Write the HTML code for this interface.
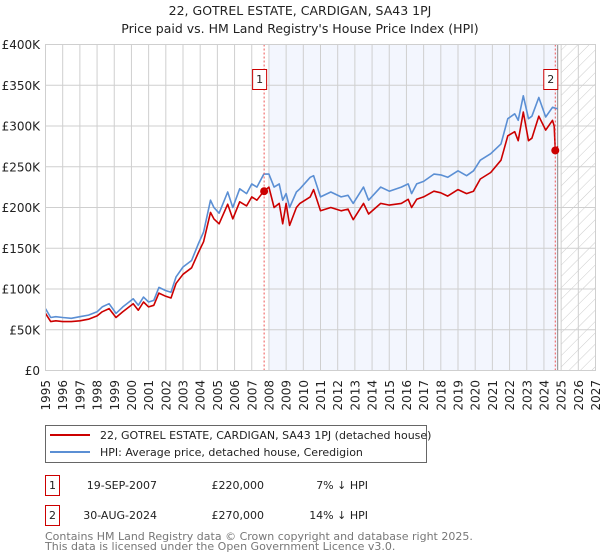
<!DOCTYPE html>
<html><head><meta charset="utf-8"><style>
body{margin:0;background:#fff;font-family:"DejaVu Sans","Liberation Sans",sans-serif;}
svg{display:block}
</style></head><body>
<svg id="chart" width="600" height="560" viewBox="0 0 600 560" xmlns="http://www.w3.org/2000/svg" font-family="DejaVu Sans, Liberation Sans, sans-serif">
<text x="300" y="15" text-anchor="middle" font-size="12.5" fill="#222">22, GOTREL ESTATE, CARDIGAN, SA43 1PJ</text>
<text x="300" y="33" text-anchor="middle" font-size="12.5" fill="#222">Price paid vs. HM Land Registry's House Price Index (HPI)</text>
<defs><pattern id="hatch" width="8" height="8" patternUnits="userSpaceOnUse" patternTransform="rotate(45)"><line x1="0" y1="0" x2="0" y2="8" stroke="#ccc" stroke-width="1"/></pattern></defs>
<g id="bg"></g><g id="grid"></g><g id="lines"></g><g id="marks"></g><g id="axes"></g>
<g>
<rect x="45.5" y="425.5" width="381" height="37" fill="#fff" stroke="#666"/>
<line x1="50" y1="435" x2="90" y2="435" stroke="#cc0000" stroke-width="2"/>
<text x="100" y="439" font-size="11" fill="#222">22, GOTREL ESTATE, CARDIGAN, SA43 1PJ (detached house)</text>
<line x1="50" y1="452" x2="90" y2="452" stroke="#5b8fd4" stroke-width="2"/>
<text x="100" y="456" font-size="11" fill="#222">HPI: Average price, detached house, Ceredigion</text>
</g>
<g font-size="11" fill="#222">
<rect x="45.5" y="475.5" width="14" height="20" fill="#fff" stroke="#cc0000"/>
<text x="52.5" y="489" text-anchor="middle">1</text>
<text x="157" y="489" text-anchor="end">19-SEP-2007</text>
<text x="264" y="489" text-anchor="end">£220,000</text>
<text x="368" y="489" text-anchor="end">7% ↓ HPI</text>
<rect x="45.5" y="505.5" width="14" height="20" fill="#fff" stroke="#cc0000"/>
<text x="52.5" y="519" text-anchor="middle">2</text>
<text x="157" y="519" text-anchor="end">30-AUG-2024</text>
<text x="264" y="519" text-anchor="end">£270,000</text>
<text x="368" y="519" text-anchor="end">14% ↓ HPI</text>
</g>
<text x="45" y="540" font-size="11" fill="#777">Contains HM Land Registry data © Crown copyright and database right 2025.</text>
<text x="45" y="550" font-size="11" fill="#777">This data is licensed under the Open Government Licence v3.0.</text>
</svg>
<script>
const hpiYears=[1995.0,1995.3,1995.6,1996.0,1996.5,1997.0,1997.5,1998.0,1998.3,1998.7,1999.1,1999.5,2000.1,2000.4,2000.7,2001.0,2001.3,2001.6,2002.0,2002.3,2002.6,2003.0,2003.5,2003.9,2004.2,2004.6,2004.8,2005.1,2005.6,2005.9,2006.3,2006.7,2007.0,2007.3,2007.7,2008.0,2008.3,2008.6,2008.8,2009.0,2009.2,2009.6,2009.8,2010.4,2010.6,2011.0,2011.6,2012.2,2012.6,2012.9,2013.5,2013.8,2014.5,2015.0,2015.7,2016.1,2016.3,2016.6,2017.0,2017.6,2018.0,2018.4,2019.0,2019.5,2019.9,2020.3,2020.9,2021.5,2021.9,2022.3,2022.5,2022.8,2023.1,2023.3,2023.7,2024.1,2024.5,2024.8];
const hpiValues=[76,65,66,65,64,66,68,72,78,82,70,78,88,80,90,84,86,102,98,96,115,127,135,156,170,209,200,193,219,200,223,217,229,225,241,241,225,229,209,217,200,219,223,237,239,213,219,213,215,205,225,209,225,220,225,229,217,229,232,241,240,237,245,239,245,258,266,278,309,315,307,337,309,312,335,311,323,321];
const priceYears=[1995.0,1995.3,1995.6,1996.0,1996.5,1997.0,1997.5,1998.0,1998.3,1998.7,1999.1,1999.5,2000.1,2000.4,2000.7,2001.0,2001.3,2001.6,2002.0,2002.3,2002.6,2003.0,2003.5,2003.9,2004.2,2004.6,2004.8,2005.1,2005.6,2005.9,2006.3,2006.7,2007.0,2007.3,2007.7,2008.0,2008.3,2008.6,2008.8,2009.0,2009.2,2009.6,2009.8,2010.4,2010.6,2011.0,2011.6,2012.2,2012.6,2012.9,2013.5,2013.8,2014.5,2015.0,2015.7,2016.1,2016.3,2016.6,2017.0,2017.6,2018.0,2018.4,2019.0,2019.5,2019.9,2020.3,2020.9,2021.5,2021.9,2022.3,2022.5,2022.8,2023.1,2023.3,2023.7,2024.1,2024.5,2024.6,2024.66,2024.8];
const priceValues=[70,60,61,60,60,61,63,67,72,76,65,72,82,74,84,78,80,95,91,89,107,118,126,145,158,194,186,180,204,186,207,202,213,209,220,225,200,205,180,205,178,200,205,213,222,196,200,196,198,185,205,192,205,203,205,210,200,210,213,220,218,214,222,217,220,235,243,258,288,293,282,317,282,285,312,295,307,300,270,275];
const saleYears=[2007.72,2024.66];
const saleValues=[220,270];
const saleLabels=["1","2"];
const yTicks=[0,50,100,150,200,250,300,350,400];
const yTickLabels=["£0","£50K","£100K","£150K","£200K","£250K","£300K","£350K","£400K"];
const xTicks=[1995,1996,1997,1998,1999,2000,2001,2002,2003,2004,2005,2006,2007,2008,2009,2010,2011,2012,2013,2014,2015,2016,2017,2018,2019,2020,2021,2022,2023,2024,2025,2026,2027];

const NS="http://www.w3.org/2000/svg";
const L=45.5,R=595.5,T=44.5,B=370.5;
const X=y=>L+(y-1995)/(2027-1995)*(R-L);
const Y=v=>B-v/400*(B-T);
function mk(tag,attrs,parent){const e=document.createElementNS(NS,tag);for(const k in attrs)e.setAttribute(k,attrs[k]);document.getElementById(parent).appendChild(e);return e;}

let e;
e=mk('rect',{x:X(2008),y:T,width:X(2024.8)-X(2008),height:B-T,fill:'#f3f6fe'},'bg');


e=mk('rect',{x:X(2025),y:T,width:R-X(2025),height:B-T,fill:'url(#hatch)'},'bg');



xTicks.forEach(t=>{
 e=mk('line',{x1:X(t),x2:X(t),y1:T,y2:B,stroke:'#cfcfcf','stroke-width':1},'grid');
 
 
 e=mk('text',{x:0,y:0,'font-size':12,fill:'#222',transform:`translate(${X(t)+4.5},${B+40}) rotate(-90)`},'axes');
 e.textContent=t;
 
 
});
yTicks.forEach((t,i)=>{
 e=mk('line',{x1:L,x2:R,y1:Y(t),y2:Y(t),stroke:'#cfcfcf','stroke-width':1},'grid');
 
 
 e=mk('text',{x:40,y:Y(t)+4.5,'font-size':12,fill:'#222','text-anchor':'end'},'axes');
 e.textContent=yTickLabels[i];
 
 
});
e=mk('line',{x1:X(2024.8),x2:X(2024.8),y1:T,y2:B,stroke:'#888','stroke-width':1},'grid');



saleYears.forEach((s,i)=>{
 e=mk('line',{x1:X(s),x2:X(s),y1:T,y2:B,stroke:'#ee5555','stroke-width':1,'stroke-dasharray':'2,2'},'marks');
 
 
});

function path(xs,vs){return xs.map((x,i)=>(i?'L':'M')+X(x).toFixed(1)+','+Y(vs[i]).toFixed(1)).join(' ');}
e=mk('path',{d:path(hpiYears,hpiValues),fill:'none',stroke:'#5b8fd4','stroke-width':1.6,'stroke-linejoin':'round'},'lines');


e=mk('path',{d:path(priceYears,priceValues),fill:'none',stroke:'#cc0000','stroke-width':1.6,'stroke-linejoin':'round'},'lines');



saleYears.forEach((s,i)=>{
 e=mk('circle',{cx:X(s),cy:Y(saleValues[i]),r:4,fill:'#cc0000'},'marks');
 
 
 e=mk('rect',{x:X(s)-11.5,y:69.5,width:14,height:20,fill:'#fff',stroke:'#cc0000'},'marks');
 
 
 e=mk('text',{x:X(s)-4.5,y:83,'font-size':11,fill:'#222','text-anchor':'middle'},'marks');
 e.textContent=saleLabels[i];
 
 
});
e=mk('rect',{x:L,y:T,width:R-L,height:B-T,fill:'none',stroke:'#cfcfcf'},'axes');


</script>
</body></html>
